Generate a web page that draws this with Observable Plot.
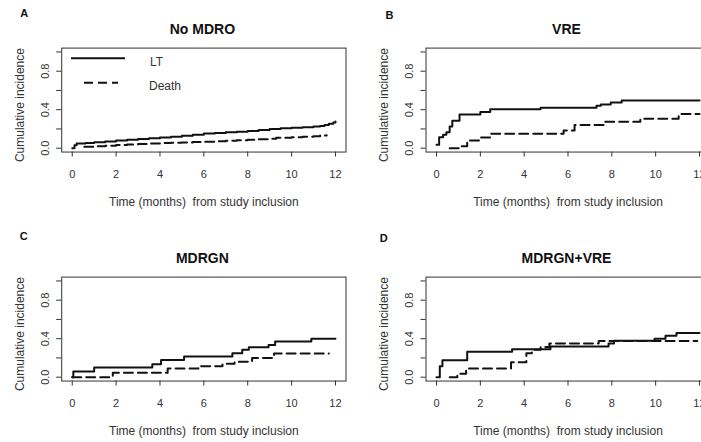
<!DOCTYPE html>
<html><head><meta charset="utf-8">
<script src="https://cdn.jsdelivr.net/npm/d3@7"></script>
<script src="https://cdn.jsdelivr.net/npm/@observablehq/plot@0.6"></script>
<style>
html,body{margin:0;padding:0;background:#fff;}
#wrap{position:relative;width:701px;height:442px;overflow:hidden;font-family:"Liberation Sans",Arial,sans-serif;}
.panel{position:absolute;height:221px;}
.panel svg{display:block;max-width:none !important;}
.panel svg text{white-space:pre;}
</style></head><body><div id="wrap"></div>
<script>
// ---- data ----
const panelLetters = ["A", "B", "C", "D"];
const panelTitles = ["No MDRO", "VRE", "MDRGN", "MDRGN+VRE"];
const xTicks = [0, 2, 4, 6, 8, 10, 12];
const yTicks = [0, 0.2, 0.4, 0.6, 0.8, 1.0];
const yTickLabels = ["0.0", "", "0.4", "", "0.8", ""];
const legendLabels = ["LT", "Death"];
const xTitle = "Time (months)  from study inclusion";
const yTitle = "Cumulative incidence";

// Panel A: No MDRO
const tA_LT = [0, 0.1, 0.2, 0.6, 1.0, 1.5, 2.0, 2.5, 3.0, 3.5, 4.0, 4.5, 5.0, 5.5, 6.0, 6.5, 7.0, 7.5, 8.0, 8.5, 9.0, 9.5, 10.0, 10.5, 11.0, 11.3, 11.5, 11.7, 11.9, 12.0];
const vA_LT = [0, 0.03, 0.048, 0.055, 0.062, 0.07, 0.08, 0.088, 0.095, 0.103, 0.112, 0.12, 0.13, 0.14, 0.152, 0.158, 0.165, 0.172, 0.18, 0.19, 0.2, 0.207, 0.212, 0.218, 0.225, 0.23, 0.242, 0.255, 0.268, 0.278];
const tA_D = [0.55, 1.0, 1.5, 2.0, 2.5, 3.0, 3.5, 4.0, 4.5, 5.0, 5.5, 6.0, 6.5, 7.0, 7.5, 8.0, 8.5, 9.0, 9.3, 10.0, 10.5, 11.0, 11.3, 11.6];
const vA_D = [0.015, 0.02, 0.025, 0.032, 0.038, 0.043, 0.048, 0.053, 0.057, 0.06, 0.064, 0.068, 0.072, 0.077, 0.082, 0.088, 0.093, 0.098, 0.108, 0.115, 0.12, 0.125, 0.133, 0.135];

// Panel B: VRE
const tB_LT = [0, 0.12, 0.3, 0.45, 0.6, 0.72, 1.05, 2.0, 2.45, 4.75, 7.3, 7.5, 7.95, 8.45, 12.0];
const vB_LT = [0.035, 0.115, 0.14, 0.165, 0.225, 0.285, 0.35, 0.375, 0.405, 0.42, 0.44, 0.455, 0.475, 0.495, 0.495];
const tB_D = [0.6, 1.1, 1.4, 2.0, 2.45, 5.8, 6.3, 7.7, 9.3, 11.05, 12.0];
const vB_D = [0.0, 0.02, 0.08, 0.11, 0.15, 0.185, 0.24, 0.275, 0.305, 0.355, 0.355];

// Panel C: MDRGN
const tC_LT = [0, 0.05, 1.0, 3.65, 4.05, 5.1, 7.3, 7.75, 8.05, 8.95, 9.25, 10.9, 12.0];
const vC_LT = [0, 0.06, 0.1, 0.135, 0.18, 0.215, 0.25, 0.285, 0.31, 0.335, 0.37, 0.4, 0.4];
const tC_D = [0, 1.85, 4.35, 5.75, 6.85, 7.4, 8.2, 9.2, 11.7];
const vC_D = [0, 0.045, 0.09, 0.115, 0.14, 0.16, 0.2, 0.245, 0.245];

// Panel D: MDRGN+VRE
const tD_LT = [0, 0.15, 0.27, 1.4, 3.45, 5.2, 7.85, 8.1, 9.95, 10.45, 10.95, 12.0];
const vD_LT = [0, 0.115, 0.175, 0.265, 0.29, 0.32, 0.35, 0.38, 0.4, 0.43, 0.46, 0.46];
const tD_D = [0.6, 0.95, 1.35, 3.4, 4.1, 4.35, 4.75, 5.15, 7.4, 11.9];
const vD_D = [0, 0.035, 0.09, 0.155, 0.25, 0.285, 0.315, 0.35, 0.375, 0.375];

// ---- build ----
const zip = (t, v) => t.map((x, i) => ({t: x, v: v[i]}));
const series = [
  [zip(tA_LT, vA_LT), zip(tA_D, vA_D)],
  [zip(tB_LT, vB_LT), zip(tB_D, vB_D)],
  [zip(tC_LT, vC_LT), zip(tC_D, vC_D)],
  [zip(tD_LT, vD_LT), zip(tD_D, vD_D)]
];
const layout = [
  {left: 0,   top: 0,   width: 350, ml: 61.2, mr: 4.5, mt: 47.6, mb: 69.45, ldx: -37.5, ldy: -34.3},
  {left: 350, top: 0,   width: 366, ml: 75.5, mr: 6.5, mt: 47.6, mb: 69.45, ldx: -36.5, ldy: -32.6},
  {left: 0,   top: 221, width: 350, ml: 61.2, mr: 4.5, mt: 55.6, mb: 61.45, ldx: -37.9, ldy: -40.6},
  {left: 350, top: 221, width: 366, ml: 75.5, mr: 6.5, mt: 55.6, mb: 61.45, ldx: -42.2, ldy: -38.9}
];
const DASH = "9,5";
const wrap = document.getElementById("wrap");

layout.forEach((L, i) => {
  const [lt, death] = series[i];
  const div = document.createElement("div");
  div.className = "panel";
  div.style.left = L.left + "px";
  div.style.top = L.top + "px";
  div.style.width = L.width + "px";
  const chart = Plot.plot({
    width: L.width, height: 221,
    marginLeft: L.ml, marginRight: L.mr, marginTop: L.mt, marginBottom: L.mb,
    style: {fontFamily: '"Liberation Sans", Arial, sans-serif', background: "transparent", color: "#333", overflow: "visible", maxWidth: "none"},
    x: {domain: [-0.48, 12.48], axis: null},
    y: {domain: [-0.04, 1.04], axis: null},
    marks: [
      Plot.frame({stroke: "#333", strokeWidth: 1}),
      Plot.axisX({ticks: xTicks, tickSize: 5, tickPadding: 13, fontSize: 11, label: null, tickFormat: d => String(d)}),
      Plot.axisY({ticks: yTicks, tickFormat: d => yTickLabels[yTicks.indexOf(d)], tickRotate: -90, tickSize: 5, tickPadding: 8, fontSize: 11, label: null}),
      Plot.line(lt, {x: "t", y: "v", curve: "step-after", stroke: "#111", strokeWidth: 2}),
      Plot.line(death, {x: "t", y: "v", curve: "step-after", stroke: "#111", strokeWidth: 2, strokeDasharray: DASH}),
      Plot.text([panelTitles[i]], {text: d => d, frameAnchor: "top", dx: -1.5, dy: -24.5, fontSize: 14, fontWeight: "bold", fill: "#111"}),
      Plot.text([panelLetters[i]], {text: d => d, frameAnchor: "top-left", dx: L.ldx, dy: L.ldy, textAnchor: "middle", lineAnchor: "middle", fontSize: 11, fontWeight: "bold", fill: "#111"}),
      Plot.text([xTitle], {text: d => d, frameAnchor: "bottom", dy: 50.5, textAnchor: "middle", lineAnchor: "middle", fontSize: 12, fill: "#333"}),
      Plot.text([yTitle], {text: d => d, frameAnchor: "left", dx: -41.5, dy: 5, rotate: -90, textAnchor: "middle", lineAnchor: "middle", fontSize: 12, fill: "#333"})
    ]
  });
  div.appendChild(chart);
  wrap.appendChild(div);

  if (i === 0) {
    // legend overlay (panel A)
    const svg = d3.select(div).append("svg")
      .attr("width", 350).attr("height", 221)
      .style("position", "absolute").style("left", "0px").style("top", "0px")
      .style("font-family", '"Liberation Sans", Arial, sans-serif');
    const rows = [
      {label: legendLabels[0], x1: 71, x2: 125, y: 58.3, dash: null, tx: 150},
      {label: legendLabels[1], x1: 84, x2: 118, y: 82.7, dash: DASH, tx: 149}
    ];
    rows.forEach(r => {
      svg.append("line").attr("x1", r.x1).attr("x2", r.x2).attr("y1", r.y).attr("y2", r.y)
        .attr("stroke", "#111").attr("stroke-width", 2).attr("stroke-dasharray", r.dash);
      svg.append("text").attr("x", r.tx).attr("y", r.y + 3.5).attr("dy", "0.32em")
        .attr("font-size", 12).attr("fill", "#333").text(r.label);
    });
  }
});
</script>
</body></html>
